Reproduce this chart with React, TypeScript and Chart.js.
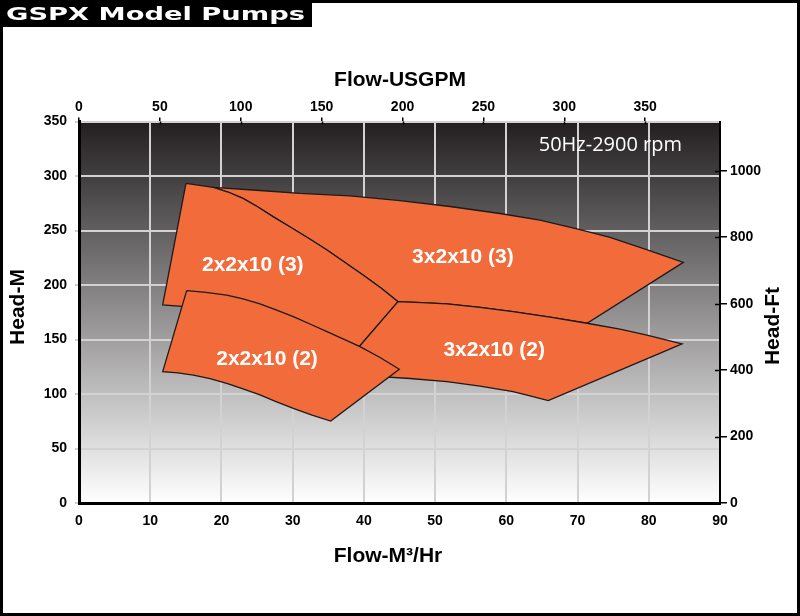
import React, { useEffect, useRef } from "react";
import { Chart, registerables } from "chart.js";

Chart.register(...registerables);

// ---- text ----
const chartTitle = "GSPX Model Pumps";
const speedNote = "50Hz-2900 rpm";
const bottomAxisTitle = "Flow-M³/Hr";
const topAxisTitle = "Flow-USGPM";
const leftAxisTitle = "Head-M";
const rightAxisTitle = "Head-Ft";

// ---- axes ----
const flowMin = 0;
const flowMax = 90;
const flowStep = 10;
const headMin = 0;
const headMax = 350;
const headStep = 50;
const gpmStep = 50;
const ftStep = 200;
const GPM_PER_M3H = 4.40287;
const FT_PER_M = 3.28084;

// ---- pump envelopes (flow m3/h, head m) ----
const shapeNames = ["2x2x10 (2)", "3x2x10 (2)", "2x2x10 (3)", "3x2x10 (3)"];

const flow_2x2x10_2 = [15.12, 17.83, 20.74, 23.03, 25.41, 27.66, 30.09, 32.43, 34.82, 37.07, 39.46, 42.27, 44.97,
  35.34, 32.72, 30.09, 27.66, 25.41, 23.03, 20.74, 18.39, 16.05, 13.9, 11.75];
const head_2x2x10_2 = [194.8, 193.3, 190.8, 187.2, 182.6, 177.1, 170.9, 164.2, 157.3, 150.5, 143.4, 133.5, 122.7,
  75.2, 80.7, 86.9, 93.1, 99.1, 104.6, 109.8, 114.2, 117.4, 119.3, 120.5];

const flow_3x2x10_2 = [44.79, 48.1, 51.67, 56.3, 60.94, 66.13, 71.33, 75.96, 79.75, 84.67,
  65.89, 63.32, 60.94, 56.3, 51.67, 46.48, 42.26, 39.74, 38.33];
const head_3x2x10_2 = [184.7, 183.9, 182.6, 179.4, 175.5, 170.6, 164.9, 159.6, 154.1, 145.9,
  93.9, 98.2, 102.1, 107.3, 111.3, 114.2, 115.9, 117.4, 135.8];

const flow_2x2x10_3 = [15.02, 18.86, 20.92, 23.03, 25.13, 27.24, 29.77, 32.29, 34.82, 37.35, 39.88, 42.4, 44.79,
  39.3, 31.03, 16.99, 14.46, 11.75];
const head_2x2x10_3 = [293.3, 289.6, 285.3, 279.4, 271.6, 262.7, 252.8, 242.7, 232.1, 220.6, 209.2, 197.2, 184.7,
  143.1, 163.3, 177.1, 180.3, 181.7];

const flow_3x2x10_3 = [18.86, 25.41, 31.03, 38.05, 45.07, 52.09, 59.11, 64.73, 69.92, 74.56, 79.9, 84.85,
  71.33, 66.13, 60.94, 56.3, 51.67, 48.1, 44.79,
  42.4, 39.88, 37.35, 34.82, 32.29, 29.77, 27.24, 25.13, 23.03, 20.92];
const head_3x2x10_3 = [289.6, 286.7, 284.0, 281.8, 277.5, 272.0, 265.6, 259.6, 251.4, 243.6, 232.1, 220.8,
  164.9, 170.6, 175.5, 179.4, 182.6, 183.9, 184.7,
  197.2, 209.2, 220.6, 232.1, 242.7, 252.8, 262.7, 271.6, 279.4, 285.3];

const shapeFlows = [flow_2x2x10_2, flow_3x2x10_2, flow_2x2x10_3, flow_3x2x10_3];
const shapeHeads = [head_2x2x10_2, head_3x2x10_2, head_2x2x10_3, head_3x2x10_3];

const labelFlow = [26.4, 58.3, 24.4, 53.9];
const labelHead = [131.7, 140.4, 218.3, 225.7];

const noteFlow = 84.67;
const noteHead = 328.4;

// ---- styles ----
const FONT = '"Liberation Sans", Arial, Helvetica, sans-serif';
const ORANGE = "#F26B3A";
const EDGE = "#1b1b1b";
const GRID = "#d2d2d2";

const decorPlugin = {
  id: "decor",
  beforeDraw(chart: any) {
    const { ctx, chartArea: a, width, height } = chart;
    ctx.save();
    ctx.fillStyle = "#ffffff";
    ctx.fillRect(0, 0, width, height);
    const g = ctx.createLinearGradient(0, a.top, 0, a.bottom);
    g.addColorStop(0, "#231f20");
    g.addColorStop(1, "#ffffff");
    ctx.fillStyle = g;
    ctx.fillRect(a.left, a.top, a.right - a.left, a.bottom - a.top);
    ctx.restore();
  },
  afterDatasetsDraw(chart: any) {
    const { ctx } = chart;
    const sx = chart.scales.x;
    const sy = chart.scales.y;
    ctx.save();
    ctx.fillStyle = "#ffffff";
    ctx.textAlign = "center";
    ctx.textBaseline = "middle";
    ctx.font = `bold 21px ${FONT}`;
    shapeNames.forEach((n, i) => {
      ctx.fillText(n, sx.getPixelForValue(labelFlow[i]), sy.getPixelForValue(labelHead[i]));
    });
    ctx.font = `20px "Open Sans", "Noto Sans", sans-serif`;
    ctx.textAlign = "right";
    ctx.fillText(speedNote, sx.getPixelForValue(noteFlow), sy.getPixelForValue(noteHead));
    ctx.restore();
  },
  afterDraw(chart: any) {
    const { ctx, chartArea: a, width, height } = chart;
    ctx.save();
    ctx.strokeStyle = "#000";
    ctx.lineWidth = 1.5;
    const y2 = chart.scales.y2;
    y2.ticks.forEach((t: any) => {
      const p = Math.round(y2.getPixelForValue(t.value)) + 0.5;
      ctx.beginPath();
      ctx.moveTo(a.right - 5, p);
      ctx.lineTo(a.right, p);
      ctx.stroke();
    });
    const x2 = chart.scales.x2;
    x2.ticks.forEach((t: any) => {
      const p = Math.round(x2.getPixelForValue(t.value)) + 0.5;
      ctx.beginPath();
      ctx.moveTo(p, a.top);
      ctx.lineTo(p, a.top + 3);
      ctx.stroke();
    });

    ctx.fillStyle = "#000";
    ctx.font = `bold 21px ${FONT}`;
    ctx.textAlign = "center";
    ctx.textBaseline = "middle";
    ctx.fillText(topAxisTitle, 400, 80);
    ctx.fillText(bottomAxisTitle, 388, 556);
    ctx.save();
    ctx.translate(18, 307);
    ctx.rotate(-Math.PI / 2);
    ctx.fillText(leftAxisTitle, 0, 0);
    ctx.restore();
    ctx.save();
    ctx.translate(773, 326);
    ctx.rotate(-Math.PI / 2);
    ctx.fillText(rightAxisTitle, 0, 0);
    ctx.restore();

    ctx.strokeStyle = "#000";
    ctx.lineWidth = 3;
    ctx.strokeRect(1.5, 1.5, width - 3, height - 3);

    ctx.fillStyle = "#000";
    ctx.fillRect(0, 0, 312, 27);
    ctx.fillStyle = "#fff";
    ctx.font = `bold 18px "DejaVu Sans", Verdana, sans-serif`;
    ctx.textAlign = "left";
    ctx.textBaseline = "alphabetic";
    const w = ctx.measureText(chartTitle).width;
    ctx.save();
    ctx.translate(6, 19.5);
    ctx.scale(299 / w, 1);
    ctx.fillText(chartTitle, 0, 0);
    ctx.restore();
    ctx.restore();
  },
};

export default function App() {
  const ref = useRef<HTMLCanvasElement | null>(null);

  useEffect(() => {
    if (!ref.current) return;
    const tickFont = { family: FONT, size: 14, weight: "bold" as const };
    const plain = (v: any) => String(v);
    const datasets = shapeNames.map((name, i) => {
      const pts = shapeFlows[i].map((f, j) => ({ x: f, y: shapeHeads[i][j] }));
      pts.push({ ...pts[0] });
      return {
        label: name,
        data: pts,
        fill: "shape",
        backgroundColor: ORANGE,
        borderColor: EDGE,
        borderWidth: 1.3,
        pointRadius: 0,
        pointHoverRadius: 0,
        tension: 0,
        borderJoinStyle: "miter" as const,
      };
    });

    const chart = new Chart(ref.current, {
      type: "line",
      data: { datasets: datasets as any },
      options: {
        responsive: false,
        animation: false,
        devicePixelRatio: 1,
        events: [],
        layout: { padding: 0 },
        plugins: { legend: { display: false }, tooltip: { enabled: false } },
        scales: {
          x: {
            type: "linear",
            position: "bottom",
            min: flowMin,
            max: flowMax,
            ticks: { stepSize: flowStep, color: "#000", font: tickFont, padding: 10, callback: plain },
            grid: { color: GRID, lineWidth: 2, drawTicks: false },
            border: { display: true, color: "#000", width: 3 },
            afterFit(s: any) {
              s.height = 113;
            },
          },
          x2: {
            type: "linear",
            position: "top",
            min: flowMin * GPM_PER_M3H,
            max: flowMax * GPM_PER_M3H,
            ticks: { stepSize: gpmStep, includeBounds: false, color: "#000", font: tickFont, padding: 2, callback: plain },
            grid: { drawOnChartArea: false, tickLength: 4, tickColor: "#000", lineWidth: 1.5 },
            border: { display: false },
            afterFit(s: any) {
              s.height = 121.5;
            },
          },
          y: {
            type: "linear",
            position: "left",
            min: headMin,
            max: headMax,
            ticks: { stepSize: headStep, color: "#000", font: tickFont, padding: 8, callback: plain },
            grid: { color: GRID, lineWidth: 2, tickLength: 4 },
            border: { display: true, color: "#000", width: 3 },
            afterFit(s: any) {
              s.width = 79;
            },
          },
          y2: {
            type: "linear",
            position: "right",
            min: headMin * FT_PER_M,
            max: headMax * FT_PER_M,
            ticks: { stepSize: ftStep, includeBounds: false, color: "#000", font: tickFont, padding: 3, callback: plain },
            grid: { drawOnChartArea: false, tickLength: 7, tickColor: "#000", lineWidth: 1.5 },
            border: { display: true, color: "#000", width: 2 },
            afterFit(s: any) {
              s.width = 80;
            },
          },
        },
      },
      plugins: [decorPlugin],
    });
    return () => chart.destroy();
  }, []);

  return (
    <div style={{ position: "absolute", left: 0, top: 0, width: 800, height: 616 }}>
      <canvas ref={ref} width={800} height={616} style={{ display: "block" }} />
    </div>
  );
}
